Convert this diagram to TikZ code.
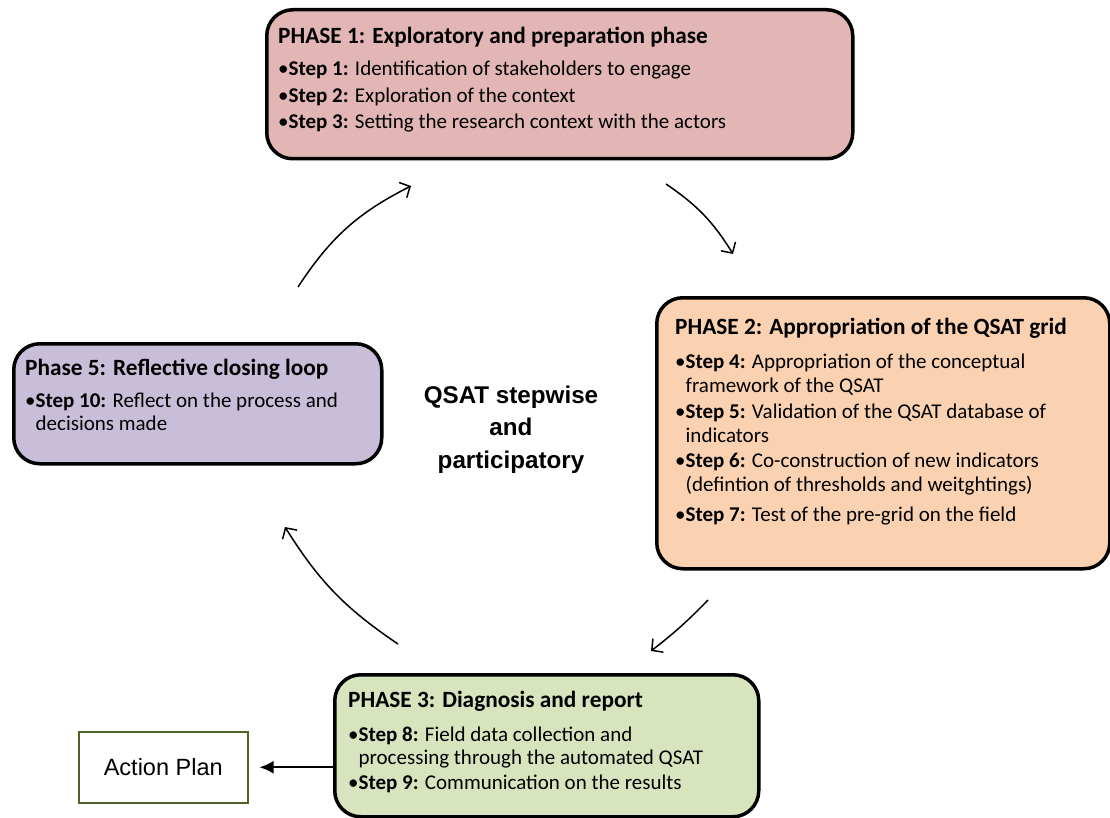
\documentclass[tikz,border=0pt]{standalone}
\usepackage{fontspec}
\setmainfont{Carlito}
\newfontfamily\arialfont{Liberation Sans}
\usetikzlibrary{arrows.meta}
\definecolor{pone}{HTML}{E3B6B6}
\definecolor{ptwo}{HTML}{FAD2B2}
\definecolor{pfive}{HTML}{C9BEDA}
\definecolor{pthree}{HTML}{D7E4BD}
\definecolor{olive}{HTML}{4F6228}
\begin{document}
\begin{tikzpicture}[x=1pt,y=-1pt,
  phasebox/.style={draw=black,line width=3.5pt,rounded corners=26pt,anchor=north west,inner sep=0pt},
  ln/.style={anchor=base west,inner sep=0pt,font=\fontsize{21}{25}\selectfont},
  ttl/.style={anchor=base west,inner sep=0pt,font=\bfseries\fontsize{23.3}{27}\selectfont},
  ctr/.style={anchor=base,inner sep=0pt,font=\arialfont\bfseries\fontsize{24.2}{28}\selectfont},
  cyc/.style={line width=1.5pt,-{Straight Barb[length=8pt,width=17pt,line width=1.5pt]}},
  outarrow/.style={line width=2.2pt,-{Latex[length=14pt,width=13pt]}}]
\useasboundingbox (0,0) rectangle (1110,818);
% boxes
\node[phasebox,fill=pone,minimum width=586pt,minimum height=149pt] (b1) at (265,8) {};
\node[phasebox,fill=ptwo,minimum width=453pt,minimum height=271pt] (b2) at (655,296) {};
\node[phasebox,fill=pfive,minimum width=368pt,minimum height=120pt] (b5) at (12,342) {};
\node[phasebox,fill=pthree,minimum width=424pt,minimum height=142pt] (b3) at (333,673) {};
\node[draw=olive,line width=1.5pt,anchor=north west,minimum width=169pt,minimum height=71pt,inner sep=0pt,font=\arialfont\fontsize{23.5}{28}\selectfont] (ap) at (78,731) {Action Plan};
% phase 1 text
\node[ttl] (t11) at (278,44) {PHASE 1: Exploratory and preparation phase};
\node[ln] (t12) at (278,76) {•\textbf{Step 1:} Identification of stakeholders to engage};
\node[ln] (t13) at (278,103) {•\textbf{Step 2:} Exploration of the context};
\node[ln] (t14) at (278,129) {•\textbf{Step 3:} Setting the research context with the actors};
% phase 2 text
\node[ttl] (t21) at (675,334) {PHASE 2: Appropriation of the QSAT grid};
\node[ln] (t22) at (675,368) {•\textbf{Step 4:} Appropriation of the conceptual};
\node[ln] (t23) at (675,392) {\phantom{•}framework of the QSAT};
\node[ln] (t24) at (675,418) {•\textbf{Step 5:} Validation of the QSAT database of};
\node[ln] (t25) at (675,442) {\phantom{•}indicators};
\node[ln] (t26) at (675,467) {•\textbf{Step 6:} Co-construction of new indicators};
\node[ln] (t27) at (675,491) {\phantom{•}(defintion of thresholds and weitghtings)};
\node[ln] (t28) at (675,521) {•\textbf{Step 7:} Test of the pre-grid on the field};
% phase 5 text
\node[ttl] (t51) at (25,375) {Phase 5: Reflective closing loop};
\node[ln] (t52) at (25,407) {•\textbf{Step 10:} Reflect on the process and};
\node[ln] (t53) at (25,430) {\phantom{•}decisions made};
% phase 3 text
\node[ttl] (t31) at (348,707) {PHASE 3: Diagnosis and report};
\node[ln] (t32) at (348,741) {•\textbf{Step 8:} Field data collection and};
\node[ln] (t33) at (348,764) {\phantom{•}processing through the automated QSAT};
\node[ln] (t34) at (348,789) {•\textbf{Step 9:} Communication on the results};
% centre text
\node[ctr] (c1) at (511,403) {QSAT stepwise};
\node[ctr] (c2) at (511,435) {and};
\node[ctr] (c3) at (511,468) {participatory};
% cycle arrows
\coordinate (a1s) at (298,287); \coordinate (a1e) at (411,186);
\coordinate (a2s) at (666,184); \coordinate (a2e) at (733,254);
\coordinate (a3s) at (708,600); \coordinate (a3e) at (651,651);
\coordinate (a4s) at (398,644); \coordinate (a4e) at (285,527);
\draw[cyc] (a1s) to[bend left=15] (a1e);
\draw[cyc] (a2s) to[bend left=12] (a2e);
\draw[cyc] (a3s) to[bend left=4] (a3e);
\draw[cyc] (a4s) to[bend left=12] (a4e);
% action plan arrow
\draw[outarrow,shorten >=11pt] (b3.west |- ap.east) -- (ap.east);
\end{tikzpicture}
\end{document}
